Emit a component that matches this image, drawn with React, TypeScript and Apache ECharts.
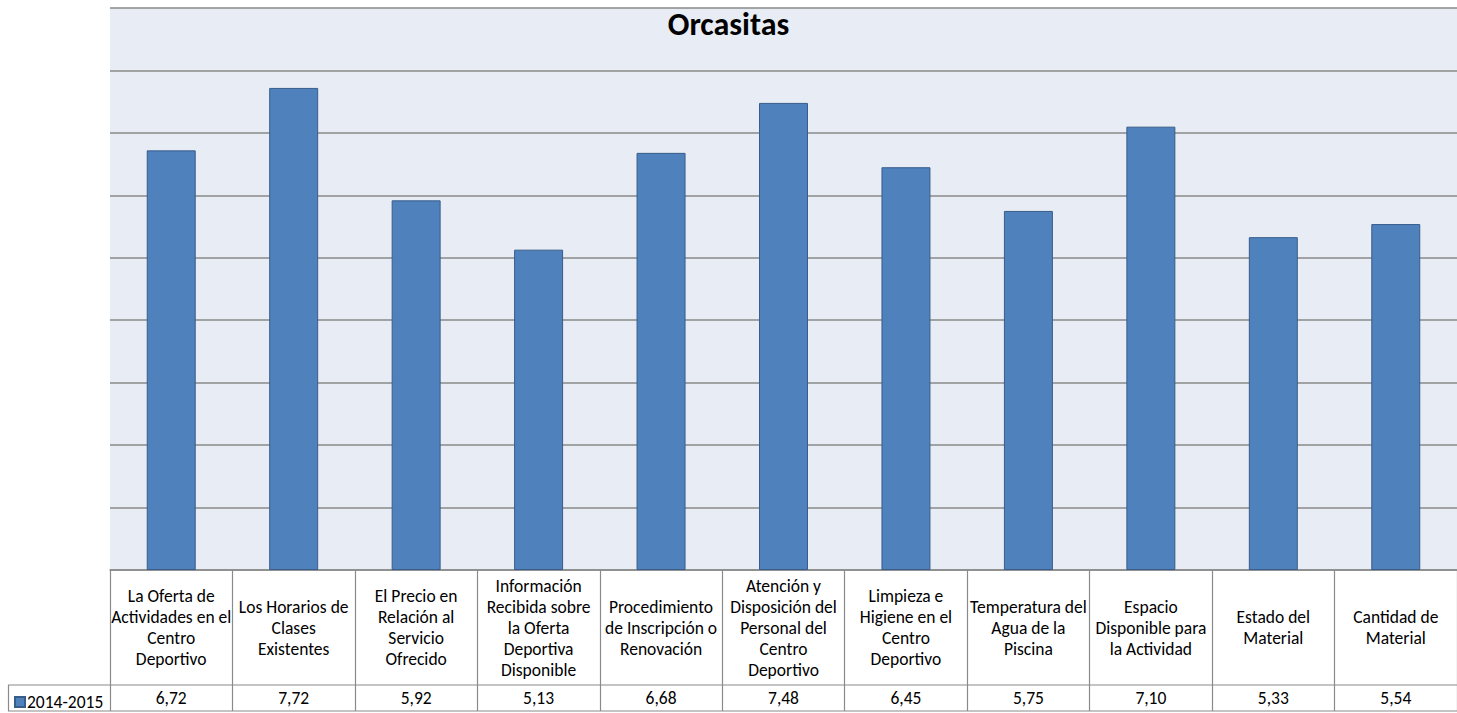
import React, { useEffect, useRef } from "react";
import * as echarts from "echarts";

const title = "Orcasitas";
const seriesName = "2014-2015";
const categories = [
  "La Oferta de\nActividades en el\nCentro\nDeportivo",
  "Los Horarios de\nClases\nExistentes",
  "El Precio en\nRelación al\nServicio\nOfrecido",
  "Información\nRecibida sobre\nla Oferta\nDeportiva\nDisponible",
  "Procedimiento\nde Inscripción o\nRenovación",
  "Atención y\nDisposición del\nPersonal del\nCentro\nDeportivo",
  "Limpieza e\nHigiene en el\nCentro\nDeportivo",
  "Temperatura del\nAgua de la\nPiscina",
  "Espacio\nDisponible para\nla Actividad",
  "Estado del\nMaterial",
  "Cantidad de\nMaterial",
];
const values = [6.72, 7.72, 5.92, 5.13, 6.68, 7.48, 6.45, 5.75, 7.1, 5.33, 5.54];

const W = 1457;
const H = 713;
const GRID_LEFT = 110;
const GRID_TOP = 8;
const GRID_BOTTOM = 143;
const ROW1_H = 115;
const ROW2_H = 26;
const LINE = "#8a8a8a";
const FONT = "Carlito, Calibri, Lato, 'Liberation Sans', sans-serif";

const fmt = (v: number) => v.toFixed(2).replace(".", ",");

export default function App() {
  const ref = useRef<HTMLDivElement>(null);
  useEffect(() => {
    document.body.style.margin = "0";
    const chart = echarts.init(ref.current!, null, { renderer: "svg" });
    const axisY = H - GRID_BOTTOM;
    const row1Bottom = axisY + ROW1_H;
    const row2Bottom = row1Bottom + ROW2_H;
    chart.setOption({
      animation: false,
      backgroundColor: "#ffffff",
      title: {
        text: title,
        left: "center",
        top: 3,
        textStyle: { fontFamily: FONT, fontSize: 32, fontWeight: "bold", color: "#000" },
      },
      legend: {
        left: 9,
        top: row1Bottom + 3,
        itemWidth: 10,
        itemHeight: 10,
        itemGap: 4,
        icon: "rect",
        textStyle: { fontFamily: FONT, fontSize: 17.5, color: "#000", padding: [0, 0, 0, -3] },
        data: [seriesName],
      },
      grid: {
        left: GRID_LEFT,
        right: 0,
        top: GRID_TOP,
        bottom: GRID_BOTTOM,
        show: true,
        backgroundColor: "#e8ecf4",
        borderWidth: 0,
      },
      xAxis: [
        {
          type: "category",
          data: categories,
          position: "bottom",
          axisLine: { show: true, lineStyle: { color: LINE, width: 1.5 } },
          axisTick: { show: true, length: ROW1_H + ROW2_H, lineStyle: { color: LINE, width: 1.2 } },
          axisLabel: {
            interval: 0,
            margin: ROW1_H / 2,
            verticalAlign: "middle",
            align: "center",
            fontFamily: FONT,
            fontSize: 17.5,
            lineHeight: 21,
            color: "#000",
          },
          splitLine: { show: false },
        },
        {
          type: "category",
          data: categories,
          position: "bottom",
          axisLine: { show: false },
          axisTick: { show: false },
          splitLine: { show: false },
          axisLabel: {
            interval: 0,
            margin: ROW1_H + ROW2_H / 2,
            verticalAlign: "middle",
            align: "center",
            fontFamily: FONT,
            fontSize: 17.5,
            color: "#000",
            formatter: (_v: string, i: number) => fmt(values[i]),
          },
        },
      ],
      yAxis: {
        type: "value",
        min: 0,
        max: 9,
        interval: 1,
        axisLabel: { show: false },
        axisLine: { show: false },
        axisTick: { show: false },
        splitLine: { show: true, lineStyle: { color: LINE, width: 1.6 } },
      },
      series: [
        {
          name: seriesName,
          type: "bar",
          xAxisIndex: 0,
          data: values,
          barWidth: "40%",
          itemStyle: { color: "#4f81bd", borderColor: "#385d8a", borderWidth: 1 },
        },
      ],
      graphic: [
        {
          type: "line",
          shape: { x1: 8, y1: row1Bottom, x2: W, y2: row1Bottom },
          style: { stroke: LINE, lineWidth: 1.2 },
        },
        {
          type: "line",
          shape: { x1: 8, y1: row2Bottom, x2: W, y2: row2Bottom },
          style: { stroke: LINE, lineWidth: 1.2 },
        },
        {
          type: "line",
          shape: { x1: 8.5, y1: row1Bottom, x2: 8.5, y2: row2Bottom },
          style: { stroke: LINE, lineWidth: 1.2 },
        },
      ],
    });
    return () => chart.dispose();
  }, []);
  return <div ref={ref} style={{ width: W, height: H }} />;
}
